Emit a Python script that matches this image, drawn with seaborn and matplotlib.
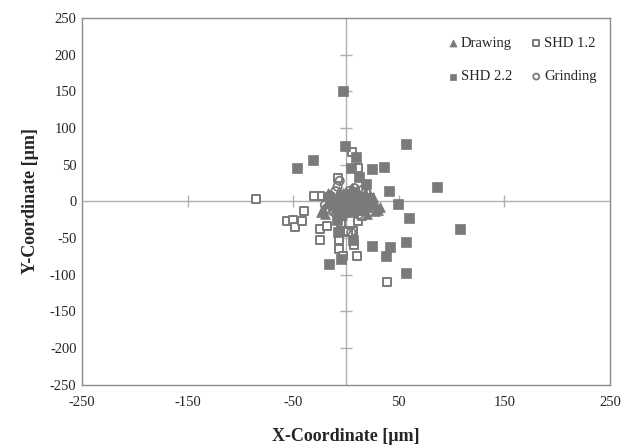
import matplotlib
matplotlib.use("Agg")
import matplotlib.pyplot as plt
import seaborn as sns
import pandas as pd

# ---- data ----
drawing_x = [-17, -20, -15, -10, -8, -5, -3, 0, 2, 4, 6, 8, 10, 12, 15, 18, 20, 22, 25, 28, 30, 32, -12, -22, 5, 14,
             -6, 10, 26, -2, -24, -18, -13, -7, -1, 3, 7, 11, 16, 19, 23, 27, -9, 1, 9, 13, 17, 21, -4, 6]
drawing_y = [11, -17, 5, -10, 8, -4, 12, 3, -8, 7, -14, 2, -6, 10, -3, 11, -17, 4, -1, -5, -12, -8, -2, -10, 15, -12,
             -16, 16, 6, -6, -14, -2, 0, 14, -13, -2, 9, -11, 6, -8, 9, -13, 3, 10, -3, 4, -12, -4, -18, 18]

grinding_x = [-8, -15, -20, -12, -5, 0, 3, 6, 10, 14, 18, 22, -3, 8, 12, -10, 0, 5, -6, 16, 20, -18, 24, 2,
              -14, -2, 4, 9, 15, 19, -9, 7, 12, 26]
grinding_y = [20, 8, -5, -14, -8, 4, 14, -2, 10, -12, 6, -6, -20, 18, -18, 14, -40, -42, 28, 16, -8, -10, 2, -12,
              2, 8, -6, 4, 0, 12, -4, 13, -8, -9]

shd12_x = [-85, -40, -56, -50, -48, -42, -25, -25, -18, -25, -8, 6, 11, -7, -7, -3, 3, 7, 11, 8, 10, 39, -15, 2, -30, 0, 15, -5]
shd12_y = [3, -13, -27, -26, -35, -27, 8, -37, -33, -52, 32, 67, 45, -53, -65, -75, -40, -40, -27, -60, -74, -110, 6, -42, 8, -5, -20, -30]

shd22_x = [-3, 57, -1, -31, -46, 9, 5, 25, 36, 12, 19, 41, 86, 49, 60, -9, -8, 7, 57, 25, 42, 38, -5, -16, 57, 108, 22, 15, -2, 4, -12]
shd22_y = [150, 78, 75, 57, 45, 60, 45, 44, 47, 33, 24, 14, 19, -3, -22, -26, -42, -53, -56, -61, -62, -74, -78, -86, -97, -38, 4, -8, -15, 10, -5]

x_ticks = [-250, -150, -50, 50, 150, 250]
y_ticks = [-250, -200, -150, -100, -50, 0, 50, 100, 150, 200, 250]

# ---- style ----
sns.set_style("white")
plt.rcParams["font.family"] = ["Liberation Serif", "DejaVu Serif"]

fig = plt.figure(figsize=(6.32, 4.48), dpi=100)
ax = fig.add_axes([0.130, 0.141, 0.835, 0.819])

gray = "#7a7a7a"
line_gray = "#b0b0b0"

# zero cross axes
ax.axhline(0, color=line_gray, lw=1.0, zorder=1)
ax.axvline(0, color=line_gray, lw=1.0, zorder=1)
ax.plot([-150, -50, 50, 150], [0, 0, 0, 0], ls="none", marker="|", ms=8, color=line_gray, mew=1.0, zorder=1)
ax.plot([0] * 8, [-200, -150, -100, -50, 50, 100, 150, 200], ls="none", marker="_", ms=8, color=line_gray, mew=1.0, zorder=1)

df_d = pd.DataFrame({"x": drawing_x, "y": drawing_y})
df_g = pd.DataFrame({"x": grinding_x, "y": grinding_y})
df_1 = pd.DataFrame({"x": shd12_x, "y": shd12_y})
df_2 = pd.DataFrame({"x": shd22_x, "y": shd22_y})

sns.scatterplot(data=df_1, x="x", y="y", ax=ax, marker="s", s=40, facecolor="white",
                edgecolor=gray, linewidth=1.4, label="SHD 1.2", zorder=3)
sns.scatterplot(data=df_2, x="x", y="y", ax=ax, marker="s", s=42, color=gray,
                edgecolor=gray, linewidth=0.5, label="SHD 2.2", zorder=3)
sns.scatterplot(data=df_g, x="x", y="y", ax=ax, marker="o", s=36, facecolor="none",
                edgecolor=gray, linewidth=1.3, label="Grinding", zorder=4)
sns.scatterplot(data=df_d, x="x", y="y", ax=ax, marker="^", s=50, color=gray,
                edgecolor=gray, linewidth=0.5, label="Drawing", zorder=4)

ax.set_xlim(-250, 250)
ax.set_ylim(-250, 250)
ax.set_xticks(x_ticks)
ax.set_yticks(y_ticks)
ax.set_xticklabels([str(v) for v in x_ticks], fontsize=10.5)
ax.set_yticklabels([str(v) for v in y_ticks], fontsize=10.5)
ax.tick_params(axis="y", length=0, pad=4)
ax.tick_params(axis="x", length=0, pad=8)

ax.set_xlabel("X-Coordinate [µm]", fontsize=13, fontweight="bold", labelpad=14)
ax.set_ylabel("Y-Coordinate [µm]", fontsize=13, fontweight="bold", labelpad=8)

for sp in ax.spines.values():
    sp.set_color("#8c8c8c")
    sp.set_linewidth(1.0)

handles, labels = ax.get_legend_handles_labels()
order = ["Drawing", "SHD 2.2", "SHD 1.2", "Grinding"]
hmap = dict(zip(labels, handles))
ax.legend([hmap[k] for k in order], order, loc="upper right", bbox_to_anchor=(1.0, 0.985),
          ncol=2, frameon=False, fontsize=10.5, markerscale=0.72, handletextpad=0.1,
          handlelength=0.9, columnspacing=1.2, labelspacing=1.4)

fig.savefig("out.png", dpi=100)
